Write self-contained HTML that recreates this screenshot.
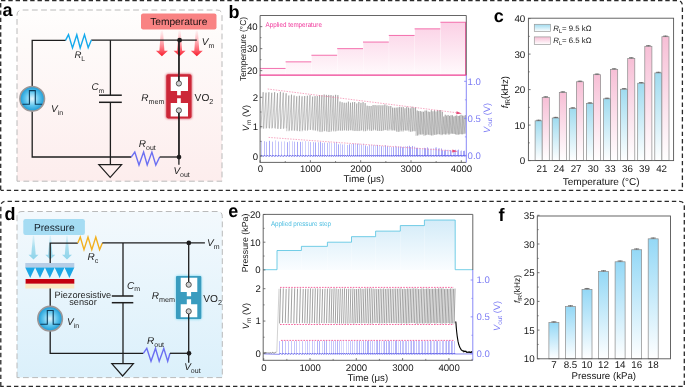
<!DOCTYPE html>
<html><head><meta charset="utf-8"><style>
html,body{margin:0;padding:0;background:#fff;}
svg{display:block;font-family:"Liberation Sans", sans-serif;will-change:transform;text-rendering:geometricPrecision;}
</style></head><body>
<svg width="685" height="387" viewBox="0 0 685 387">
<defs>
<linearGradient id="bgA" x1="0" y1="0" x2="0" y2="1"><stop offset="0" stop-color="#fffefd"/><stop offset="0.15" stop-color="#fefbfa"/><stop offset="1" stop-color="#fdeded"/></linearGradient>
<linearGradient id="bgD" x1="0" y1="0" x2="0" y2="1"><stop offset="0" stop-color="#f3f9fd"/><stop offset="1" stop-color="#dbf0fb"/></linearGradient>
<radialGradient id="vin" cx="0.5" cy="0.5" r="0.5"><stop offset="0" stop-color="#e6f8ff"/><stop offset="0.55" stop-color="#62c6ee"/><stop offset="1" stop-color="#1a9ad6"/></radialGradient>
<linearGradient id="arrR" x1="0" y1="0" x2="0" y2="1"><stop offset="0" stop-color="#ff7080" stop-opacity="0.05"/><stop offset="0.55" stop-color="#ff5060" stop-opacity="0.6"/><stop offset="1" stop-color="#f81828" stop-opacity="1"/></linearGradient>
<linearGradient id="arrB" x1="0" y1="0" x2="0" y2="1"><stop offset="0" stop-color="#a8e0f0" stop-opacity="0.3"/><stop offset="0.5" stop-color="#9ad9ec" stop-opacity="0.85"/><stop offset="1" stop-color="#8fd4ea" stop-opacity="1"/></linearGradient>
<linearGradient id="pinkStep" gradientUnits="userSpaceOnUse" x1="0" y1="22" x2="0" y2="75"><stop offset="0" stop-color="#fbd0e5"/><stop offset="1" stop-color="#fffafc"/></linearGradient>
<linearGradient id="blueStep" gradientUnits="userSpaceOnUse" x1="0" y1="219" x2="0" y2="270"><stop offset="0" stop-color="#d3ebf8"/><stop offset="1" stop-color="#fafdff"/></linearGradient>
<linearGradient id="barB" x1="0" y1="0" x2="0" y2="1"><stop offset="0" stop-color="#9fdbef"/><stop offset="1" stop-color="#ffffff"/></linearGradient>
<linearGradient id="barP" x1="0" y1="0" x2="0" y2="1"><stop offset="0" stop-color="#f7bfd6"/><stop offset="1" stop-color="#ffffff"/></linearGradient>
<linearGradient id="barF" x1="0" y1="0" x2="0" y2="1"><stop offset="0" stop-color="#94d8f6"/><stop offset="1" stop-color="#ffffff"/></linearGradient>
<filter id="glowR" x="-40%" y="-40%" width="180%" height="180%"><feGaussianBlur stdDeviation="1.2"/></filter>
<filter id="blur03"><feGaussianBlur stdDeviation="0.35"/></filter>
</defs>
<rect width="685" height="387" fill="#fff"/>
<path d="M0.7,190 L0.7,0.5 L677,0.5 Q682.4,0.5 682.4,6 L682.4,190.4 L0.7,190.4" fill="none" stroke="#2a2a2a" stroke-width="1.3" stroke-dasharray="4.4 2.9"/>
<path d="M0.8,386.4 L0.8,206.2 Q0.8,201.3 5.7,201.3 L679.4,201.3 Q684.3,201.3 684.3,206.2 L684.3,386.4 Z" fill="none" stroke="#2a2a2a" stroke-width="1.3" stroke-dasharray="4.4 2.9"/>
<text x="2.50" y="15.60" font-size="18" text-anchor="start" fill="#000" font-weight="bold" font-style="normal" >a</text>
<text x="228.60" y="17.50" font-size="18" text-anchor="start" fill="#000" font-weight="bold" font-style="normal" >b</text>
<text x="493.80" y="21.60" font-size="18" text-anchor="start" fill="#000" font-weight="bold" font-style="normal" >c</text>
<text x="4.40" y="219.80" font-size="18" text-anchor="start" fill="#000" font-weight="bold" font-style="normal" >d</text>
<text x="228.20" y="216.60" font-size="18" text-anchor="start" fill="#000" font-weight="bold" font-style="normal" >e</text>
<text x="498.60" y="220.60" font-size="18" text-anchor="start" fill="#000" font-weight="bold" font-style="normal" >f</text>
<path d="M17,181.2 L17,15 Q17,10 22,10 L217,10 Q222,10 222,15 L222,181.2 Z" fill="url(#bgA)" stroke="#bababa" stroke-width="1.0" stroke-dasharray="5.8 3.4"/>
<rect x="141.00" y="13.40" width="75.50" height="16.00" rx="2.2" fill="#f98383" stroke="none" stroke-width="1" />
<text x="178.80" y="25.30" font-size="10.2" text-anchor="middle" fill="#1a1212" font-weight="normal" font-style="normal" >Temperature</text>
<path d="M160.80,30.5 L163.00,30.5 L164.40,50.8 L167.90,50.8 L161.90,56.2 L155.90,50.8 L159.40,50.8 Z" fill="url(#arrR)"/>
<path d="M178.50,30.5 L180.70,30.5 L182.10,50.8 L185.60,50.8 L179.60,56.2 L173.60,50.8 L177.10,50.8 Z" fill="url(#arrR)"/>
<path d="M195.70,30.5 L197.90,30.5 L199.30,50.8 L202.80,50.8 L196.80,56.2 L190.80,50.8 L194.30,50.8 Z" fill="url(#arrR)"/>
<polyline points="32.20,86.00 32.20,40.40 65.70,40.40" stroke="#1e1e1e" stroke-width="1.3" fill="none" />
<line x1="91.20" y1="40.20" x2="196.80" y2="40.20" stroke="#1e1e1e" stroke-width="1.3" />
<polyline points="65.50,40.40 68.50,34.60 72.50,47.90 76.80,34.80 80.20,47.90 84.50,34.60 88.20,47.60 91.40,40.10" stroke="#14a9ec" stroke-width="1.4" fill="none" stroke-linejoin="miter"/>
<text x="74.40" y="58.40" font-size="9.6" fill="#1e1e1e" text-anchor="start"><tspan font-style="italic">R</tspan><tspan font-size="6.8" dy="2.9">L</tspan></text>
<line x1="110.40" y1="40.20" x2="110.40" y2="95.20" stroke="#1e1e1e" stroke-width="1.3" />
<line x1="99.00" y1="95.20" x2="121.80" y2="95.20" stroke="#1e1e1e" stroke-width="1.5" />
<line x1="99.00" y1="102.30" x2="121.80" y2="102.30" stroke="#1e1e1e" stroke-width="1.5" />
<line x1="110.40" y1="102.30" x2="110.40" y2="164.60" stroke="#1e1e1e" stroke-width="1.3" />
<text x="91.60" y="89.60" font-size="9.8" fill="#1e1e1e" text-anchor="start"><tspan font-style="italic">C</tspan><tspan font-size="6.6" dy="2.9">m</tspan></text>
<path d="M98.8,164.6 L121.6,164.6 L110.2,177.4 Z" fill="none" stroke="#1e1e1e" stroke-width="1.2" stroke-linejoin="miter"/>
<polyline points="32.20,111.00 32.20,157.00 131.30,157.00" stroke="#1e1e1e" stroke-width="1.3" fill="none" />
<circle cx="32.2" cy="98.8" r="12.3" fill="url(#vin)" stroke="#9d9797" stroke-width="1.6"/>
<polyline points="22.40,104.30 29.40,104.30 29.40,90.60 35.30,90.60 35.30,104.30 42.20,104.30" stroke="#0b3d5c" stroke-width="1.1" fill="none" />
<text x="51.00" y="111.60" font-size="10" fill="#1e1e1e" text-anchor="start"><tspan font-style="italic">V</tspan><tspan font-size="7" dy="2.9">in</tspan></text>
<polyline points="131.20,157.20 134.80,152.10 139.00,165.00 143.60,152.10 147.20,165.00 151.90,152.10 155.80,165.00 159.70,157.00" stroke="#6b6ff2" stroke-width="1.4" fill="none" />
<line x1="159.70" y1="157.00" x2="179.00" y2="157.00" stroke="#1e1e1e" stroke-width="1.3" />
<text x="138.80" y="146.90" font-size="10" fill="#1e1e1e" text-anchor="start"><tspan font-style="italic">R</tspan><tspan font-size="7" dy="2.9">out</tspan></text>
<line x1="179.00" y1="40.20" x2="179.00" y2="81.00" stroke="#1e1e1e" stroke-width="1.3" />
<line x1="179.00" y1="113.00" x2="179.00" y2="157.00" stroke="#1e1e1e" stroke-width="1.3" />
<circle cx="179.60" cy="40.20" r="2.35" fill="#1e1e1e"/>
<circle cx="179.00" cy="157.10" r="2.35" fill="#1e1e1e"/>
<text x="201.80" y="45.30" font-size="10" fill="#1e1e1e" text-anchor="start"><tspan font-style="italic">V</tspan><tspan font-size="7" dy="2.9">m</tspan></text>
<text x="173.40" y="174.30" font-size="10" fill="#1e1e1e" text-anchor="start"><tspan font-style="italic">V</tspan><tspan font-size="7" dy="2.9">out</tspan></text>
<rect x="165.80" y="73.80" width="26.20" height="45.00" rx="2.5" fill="#cf2a3c" stroke="none" stroke-width="1" filter="url(#glowR)" opacity="0.75"/>
<rect x="166.30" y="74.20" width="25.20" height="44.20" rx="1.8" fill="#cc2738" stroke="none" stroke-width="1" />
<path d="M170.7,76.7 L188.0,76.7 L188.0,90.9 L180.8,90.9 L180.8,95.3 L177.1,95.3 L177.1,90.9 L170.7,90.9 Z" fill="#ffffff"/>
<path d="M170.7,116.4 L188.0,116.4 L188.0,103.0 L180.8,103.0 L180.8,98.3 L177.1,98.3 L177.1,103.0 L170.7,103.0 Z" fill="#ffffff"/>
<line x1="178.90" y1="76.00" x2="178.90" y2="81.00" stroke="#1e1e1e" stroke-width="1.3" />
<line x1="178.90" y1="113.00" x2="178.90" y2="119.00" stroke="#1e1e1e" stroke-width="1.3" />
<circle cx="178.9" cy="83.5" r="2.6" fill="#cfcfcf" stroke="#333" stroke-width="0.8"/>
<circle cx="178.9" cy="110.4" r="2.6" fill="#cfcfcf" stroke="#333" stroke-width="0.8"/>
<line x1="178.90" y1="40.20" x2="178.90" y2="80.90" stroke="#1e1e1e" stroke-width="1.3" />
<line x1="178.90" y1="113.00" x2="178.90" y2="164.70" stroke="#1e1e1e" stroke-width="1.3" />
<text x="141.20" y="100.60" font-size="10" fill="#1e1e1e" text-anchor="start"><tspan font-style="italic">R</tspan><tspan font-size="7.2" dy="2.9">mem</tspan></text>
<text x="194.60" y="101.00" font-size="10.2" fill="#1e1e1e" text-anchor="start"><tspan font-style="normal">VO</tspan><tspan font-size="7.2" dy="2.9">2</tspan></text>
<path d="M17,377.6 L17,216.5 Q17,211.5 22,211.5 L217.3,211.5 Q222.3,211.5 222.3,216.5 L222.3,377.6 Z" fill="url(#bgD)" stroke="#bababa" stroke-width="1.0" stroke-dasharray="5.8 3.4"/>
<rect x="23.30" y="219.00" width="61.60" height="15.90" rx="2.2" fill="#a5dcf3" stroke="none" stroke-width="1" />
<text x="54.30" y="230.80" font-size="10.2" text-anchor="middle" fill="#16202a" font-weight="normal" font-style="normal" >Pressure</text>
<path d="M32.90,235.8 L34.10,235.8 L35.70,254.7 L38.50,254.7 L33.50,259.6 L28.50,254.7 L31.30,254.7 Z" fill="url(#arrB)"/>
<path d="M49.70,235.8 L50.90,235.8 L52.50,254.7 L55.30,254.7 L50.30,259.6 L45.30,254.7 L48.10,254.7 Z" fill="url(#arrB)"/>
<path d="M66.40,235.8 L67.60,235.8 L69.20,254.7 L72.00,254.7 L67.00,259.6 L62.00,254.7 L64.80,254.7 Z" fill="url(#arrB)"/>
<rect x="25.30" y="263.00" width="49.00" height="4.60" rx="0" fill="#b5cde6" stroke="none" stroke-width="1" />
<path d="M25.30,267.5 L35.10,267.5 L30.20,278 Z" fill="#1ca7e6"/>
<path d="M35.10,267.5 L44.90,267.5 L40.00,278 Z" fill="#1ca7e6"/>
<path d="M44.90,267.5 L54.70,267.5 L49.80,278 Z" fill="#1ca7e6"/>
<path d="M54.70,267.5 L64.50,267.5 L59.60,278 Z" fill="#1ca7e6"/>
<path d="M64.50,267.5 L74.30,267.5 L69.40,278 Z" fill="#1ca7e6"/>
<rect x="25.60" y="279.00" width="48.70" height="4.80" rx="0" fill="#c4000f" stroke="none" stroke-width="1" />
<rect x="25.30" y="283.80" width="49.00" height="4.70" rx="0" fill="#fbe8c2" stroke="none" stroke-width="1" />
<polyline points="50.20,263.00 50.20,243.10 77.80,243.10" stroke="#1e1e1e" stroke-width="1.3" fill="none" />
<polyline points="77.80,243.10 80.30,237.00 84.00,249.60 88.00,237.00 91.80,249.60 95.80,237.00 99.60,249.60 102.40,242.90" stroke="#f2b01e" stroke-width="1.4" fill="none" />
<line x1="102.30" y1="242.90" x2="204.90" y2="242.90" stroke="#1e1e1e" stroke-width="1.3" />
<text x="87.50" y="259.60" font-size="10" fill="#1e1e1e" text-anchor="start"><tspan font-style="italic">R</tspan><tspan font-size="7" dy="2.9">c</tspan></text>
<line x1="50.20" y1="288.50" x2="50.20" y2="306.30" stroke="#1e1e1e" stroke-width="1.3" />
<line x1="123.00" y1="242.90" x2="123.00" y2="296.00" stroke="#1e1e1e" stroke-width="1.3" />
<line x1="111.80" y1="296.00" x2="133.30" y2="296.00" stroke="#1e1e1e" stroke-width="1.5" />
<line x1="111.80" y1="302.70" x2="133.30" y2="302.70" stroke="#1e1e1e" stroke-width="1.5" />
<line x1="123.00" y1="302.70" x2="123.00" y2="363.50" stroke="#1e1e1e" stroke-width="1.3" />
<text x="127.00" y="288.50" font-size="10" fill="#1e1e1e" text-anchor="start"><tspan font-style="italic">C</tspan><tspan font-size="7" dy="2.9">m</tspan></text>
<path d="M111.8,363.6 L133.4,363.6 L122.6,376.0 Z" fill="none" stroke="#1e1e1e" stroke-width="1.2"/>
<text x="82.90" y="298.00" font-size="9.2" text-anchor="middle" fill="#1e1e1e" font-weight="normal" font-style="normal" >Piezoresistive</text>
<text x="83.00" y="305.20" font-size="9.2" text-anchor="middle" fill="#1e1e1e" font-weight="normal" font-style="normal" >sensor</text>
<polyline points="50.20,331.00 50.20,353.30 143.30,353.30" stroke="#1e1e1e" stroke-width="1.3" fill="none" />
<circle cx="50.1" cy="318.7" r="12.3" fill="url(#vin)" stroke="#9d9797" stroke-width="1.6"/>
<polyline points="40.30,324.20 47.30,324.20 47.30,310.50 53.20,310.50 53.20,324.20 60.10,324.20" stroke="#0b3d5c" stroke-width="1.1" fill="none" />
<text x="67.00" y="325.00" font-size="10" fill="#1e1e1e" text-anchor="start"><tspan font-style="italic">V</tspan><tspan font-size="7" dy="2.9">in</tspan></text>
<polyline points="143.30,353.30 146.80,348.40 151.00,361.20 155.50,348.40 159.20,361.20 163.80,348.40 167.70,361.20 170.00,353.30" stroke="#6b6ff2" stroke-width="1.4" fill="none" />
<line x1="170.00" y1="353.30" x2="189.00" y2="353.30" stroke="#1e1e1e" stroke-width="1.3" />
<text x="147.00" y="343.80" font-size="10" fill="#1e1e1e" text-anchor="start"><tspan font-style="italic">R</tspan><tspan font-size="7" dy="2.9">out</tspan></text>
<text x="184.20" y="370.40" font-size="10" fill="#1e1e1e" text-anchor="start"><tspan font-style="italic">V</tspan><tspan font-size="7" dy="2.9">out</tspan></text>
<text x="207.00" y="246.30" font-size="10" fill="#1e1e1e" text-anchor="start"><tspan font-style="italic">V</tspan><tspan font-size="7" dy="2.9">m</tspan></text>
<rect x="175.60" y="275.60" width="26.00" height="43.80" rx="2.5" fill="#6fd4ef" stroke="none" stroke-width="1" filter="url(#glowR)" opacity="0.8"/>
<rect x="176.00" y="276.00" width="25.30" height="43.10" rx="1.0" fill="#3a9cbf" stroke="none" stroke-width="1" />
<path d="M180.7,277.8 L197.3,277.8 L197.3,292.1 L191.1,292.1 L191.1,296.3 L186.8,296.3 L186.8,292.1 L180.7,292.1 Z" fill="#ffffff"/>
<path d="M180.7,317.3 L197.3,317.3 L197.3,304.2 L191.1,304.2 L191.1,299.2 L186.8,299.2 L186.8,304.2 L180.7,304.2 Z" fill="#ffffff"/>
<line x1="188.70" y1="242.90" x2="188.70" y2="282.00" stroke="#1e1e1e" stroke-width="1.3" />
<line x1="188.70" y1="314.00" x2="188.70" y2="362.80" stroke="#1e1e1e" stroke-width="1.3" />
<circle cx="188.7" cy="284.7" r="2.6" fill="#cfcfcf" stroke="#333" stroke-width="0.8"/>
<circle cx="188.7" cy="311.3" r="2.6" fill="#cfcfcf" stroke="#333" stroke-width="0.8"/>
<circle cx="188.80" cy="242.90" r="2.35" fill="#1e1e1e"/>
<circle cx="189.00" cy="353.30" r="2.35" fill="#1e1e1e"/>
<text x="151.80" y="298.80" font-size="10" fill="#1e1e1e" text-anchor="start"><tspan font-style="italic">R</tspan><tspan font-size="7.2" dy="2.9">mem</tspan></text>
<text x="203.30" y="302.40" font-size="10.2" fill="#1e1e1e" text-anchor="start"><tspan font-style="normal">VO</tspan><tspan font-size="7.2" dy="2.9">2</tspan></text>
<rect x="260.10" y="68.45" width="25.50" height="6.65" rx="0" fill="url(#pinkStep)" stroke="none" stroke-width="1" />
<line x1="259.80" y1="68.45" x2="285.60" y2="68.45" stroke="#f2589f" stroke-width="0.85" />
<rect x="285.90" y="61.85" width="25.50" height="13.25" rx="0" fill="url(#pinkStep)" stroke="none" stroke-width="1" />
<line x1="285.60" y1="61.85" x2="311.40" y2="61.85" stroke="#f2589f" stroke-width="0.85" />
<rect x="311.70" y="55.25" width="25.50" height="19.85" rx="0" fill="url(#pinkStep)" stroke="none" stroke-width="1" />
<line x1="311.40" y1="55.25" x2="337.20" y2="55.25" stroke="#f2589f" stroke-width="0.85" />
<rect x="337.50" y="48.65" width="25.50" height="26.45" rx="0" fill="url(#pinkStep)" stroke="none" stroke-width="1" />
<line x1="337.20" y1="48.65" x2="363.00" y2="48.65" stroke="#f2589f" stroke-width="0.85" />
<rect x="363.30" y="42.05" width="25.50" height="33.05" rx="0" fill="url(#pinkStep)" stroke="none" stroke-width="1" />
<line x1="363.00" y1="42.05" x2="388.80" y2="42.05" stroke="#f2589f" stroke-width="0.85" />
<rect x="389.10" y="35.45" width="25.50" height="39.65" rx="0" fill="url(#pinkStep)" stroke="none" stroke-width="1" />
<line x1="388.80" y1="35.45" x2="414.60" y2="35.45" stroke="#f2589f" stroke-width="0.85" />
<rect x="414.90" y="28.85" width="25.50" height="46.25" rx="0" fill="url(#pinkStep)" stroke="none" stroke-width="1" />
<line x1="414.60" y1="28.85" x2="440.40" y2="28.85" stroke="#f2589f" stroke-width="0.85" />
<rect x="440.70" y="22.25" width="25.50" height="52.85" rx="0" fill="url(#pinkStep)" stroke="none" stroke-width="1" />
<line x1="440.40" y1="22.25" x2="466.20" y2="22.25" stroke="#f2589f" stroke-width="0.85" />
<line x1="465.50" y1="22.25" x2="465.50" y2="75.10" stroke="#f2589f" stroke-width="0.9" />
<polyline points="260.10,75.10 260.10,15.50 466.30,15.50 466.30,75.10" stroke="#555555" stroke-width="0.9" fill="none" />
<line x1="259.70" y1="75.10" x2="466.70" y2="75.10" stroke="#ee3f93" stroke-width="1.1" />
<text x="265.60" y="27.00" font-size="7.0" text-anchor="start" fill="#f0359a" font-weight="normal" font-style="normal" textLength="56.3" lengthAdjust="spacingAndGlyphs">Applied temperature</text>
<line x1="260.10" y1="70.65" x2="262.30" y2="70.65" stroke="#555555" stroke-width="0.8" />
<text x="257.60" y="74.05" font-size="9.6" text-anchor="end" fill="#161616" font-weight="normal" font-style="normal" >20</text>
<line x1="260.10" y1="48.65" x2="262.30" y2="48.65" stroke="#555555" stroke-width="0.8" />
<text x="257.60" y="52.05" font-size="9.6" text-anchor="end" fill="#161616" font-weight="normal" font-style="normal" >30</text>
<line x1="260.10" y1="26.65" x2="262.30" y2="26.65" stroke="#555555" stroke-width="0.8" />
<text x="257.60" y="30.05" font-size="9.6" text-anchor="end" fill="#161616" font-weight="normal" font-style="normal" >40</text>
<line x1="260.10" y1="59.65" x2="261.50" y2="59.65" stroke="#555555" stroke-width="0.7" />
<line x1="260.10" y1="37.65" x2="261.50" y2="37.65" stroke="#555555" stroke-width="0.7" />
<text transform="translate(246.0,49.0) rotate(-90)" font-size="8.6" text-anchor="middle" fill="#161616" textLength="64" lengthAdjust="spacingAndGlyphs">Temperature (°C)</text>
<path d="M260.85,128.57L263.15,92.18L263.30,128.57M263.73,128.63L266.03,92.65L266.17,128.63M266.60,128.07L268.90,92.22L269.05,128.07M269.48,128.58L271.78,92.78L271.92,128.58M272.35,127.94L274.65,92.16L274.79,127.94M275.23,128.77L277.53,93.18L277.67,128.77M278.10,128.95L280.40,91.79L280.54,128.95M280.97,128.85L283.27,92.65L283.42,128.85M283.85,128.38L286.15,93.28L286.29,128.38M286.72,131.20L288.84,95.49L288.97,131.20M289.37,130.49L291.49,94.67L291.62,130.49M292.02,130.70L294.14,95.47L294.27,130.70M294.67,130.62L296.78,96.27L296.92,130.62M297.31,131.15L299.43,95.77L299.56,131.15M299.96,131.29L302.08,96.31L302.21,131.29M302.61,130.22L304.73,96.00L304.86,130.22M305.25,130.84L307.37,95.74L307.50,130.84M307.90,129.90L310.02,95.13L310.15,129.90M310.55,129.84L312.67,96.58L312.80,129.84M313.20,130.53L315.03,96.09L315.14,130.53M315.48,130.57L317.31,96.05L317.43,130.57M317.77,131.44L319.60,95.06L319.71,131.44M320.06,132.10L321.88,95.31L322.00,132.10M322.34,131.36L324.17,94.52L324.29,131.36M324.63,130.92L326.46,94.88L326.57,130.92M326.91,132.03L328.74,94.93L328.86,132.03M329.20,131.89L331.03,95.05L331.14,131.89M331.49,130.66L333.32,95.66L333.43,130.66M333.77,131.51L335.60,94.84L335.72,131.51M336.06,130.91L337.89,95.17L338.00,130.91M338.35,130.46L340.02,101.52L340.13,130.46M340.44,130.74L342.12,102.25L342.22,130.74M342.54,130.55L344.22,102.75L344.32,130.55M344.63,130.25L346.31,102.72L346.42,130.25M346.73,130.88L348.41,101.62L348.51,130.88M348.83,130.28L350.50,102.76L350.61,130.28M350.92,130.30L352.60,102.23L352.70,130.30M353.02,131.06L354.69,102.03L354.80,131.06M355.11,130.89L356.79,103.44L356.89,130.89M357.21,131.09L358.89,101.95L358.99,131.09M359.31,130.84L360.98,102.86L361.09,130.84M361.40,130.33L363.08,102.14L363.18,130.33M363.50,131.34L365.17,103.12L365.28,131.34M365.59,130.92L367.17,105.70L367.27,130.92M367.57,129.55L369.14,105.97L369.24,129.55M369.54,130.84L371.12,106.01L371.21,130.84M371.51,130.82L373.09,105.08L373.19,130.82M373.48,129.71L375.06,105.09L375.16,129.71M375.46,130.51L377.03,105.33L377.13,130.51M377.43,130.97L379.01,105.22L379.10,130.97M379.40,130.83L380.98,105.35L381.08,130.83M381.37,131.02L382.95,105.27L383.05,131.02M383.35,130.23L384.92,104.46L385.02,130.23M385.32,129.96L386.90,105.44L386.99,129.96M387.29,130.87L388.87,106.12L388.97,130.87M389.26,129.57L390.84,106.02L390.94,129.57M391.24,130.62L392.65,107.62L392.74,130.62M393.00,130.32L394.41,107.75L394.50,130.32M394.77,130.68L396.18,107.61L396.27,130.68M396.53,131.80L397.94,107.43L398.03,131.80M398.30,131.86L399.71,106.85L399.80,131.86M400.06,130.62L401.47,107.30L401.56,130.62M401.83,131.57L403.24,106.94L403.33,131.57M403.59,130.31L405.00,108.25L405.09,130.31M405.36,130.73L406.77,106.70L406.86,130.73M407.12,130.38L408.53,107.64L408.62,130.38M408.88,131.54L410.30,108.31L410.39,131.54M410.65,131.86L412.06,106.74L412.15,131.86M412.41,131.08L413.83,107.63L413.91,131.08M414.18,131.34L415.59,107.30L415.68,131.34M415.94,135.78L417.20,110.53L417.28,135.78M417.52,135.35L418.77,111.11L418.85,135.35M419.09,134.27L420.35,111.13L420.42,134.27M420.66,134.81L421.92,111.57L422.00,134.81M422.23,134.28L423.49,111.77L423.57,134.28M423.80,135.72L425.06,110.63L425.14,135.72M425.38,135.06L426.63,110.49L426.71,135.06M426.95,134.56L428.21,111.61L428.28,134.56M428.52,134.80L429.78,111.87L429.86,134.80M430.09,135.30L431.35,110.24L431.43,135.30M431.66,135.62L432.92,111.32L433.00,135.62M433.24,134.71L434.49,110.22L434.57,134.71M434.81,134.96L436.06,111.43L436.14,134.96M436.38,134.35L437.64,110.09L437.71,134.35M437.95,134.24L439.21,110.36L439.29,134.24M439.52,134.38L440.78,110.05L440.86,134.38M441.09,135.13L442.35,111.90L442.43,135.13M442.67,134.10L443.82,116.49L443.89,134.10M444.10,134.40L445.25,114.71L445.33,134.40M445.54,134.59L446.69,115.60L446.76,134.59M446.98,133.49L448.13,114.98L448.20,133.49M448.41,134.71L449.56,115.90L449.64,134.71M449.85,133.76L451.00,115.29L451.07,133.76M451.29,133.58L452.44,115.25L452.51,133.58M452.73,133.86L453.88,116.43L453.95,133.86M454.16,134.03L455.31,115.85L455.39,134.03M455.60,134.62L456.75,115.30L456.82,134.62M457.04,134.67L458.19,116.00L458.26,134.67M458.47,134.57L459.62,115.67L459.70,134.57M459.91,134.02L461.06,114.79L461.13,134.02M461.35,134.45L462.50,115.58L462.57,134.45M462.79,134.14L463.94,115.69L464.01,134.14M464.22,133.63L465.37,115.11L465.45,133.63" stroke="#707070" stroke-width="0.42" fill="none"/>
<path d="M269.50,155.60V140.84M287.50,155.60V142.21M297.50,155.60V141.89M300.50,155.60V141.87M315.50,155.60V142.38M320.50,155.60V141.90M338.50,155.60V144.33M349.50,155.60V144.36M353.50,155.60V143.57M357.50,155.60V143.78M365.50,155.60V145.42M377.50,155.60V144.95M381.50,155.60V146.18M385.50,155.60V145.25M387.50,155.60V146.25M393.50,155.60V146.89M398.50,155.60V146.57M400.50,155.60V146.56M402.50,155.60V147.17M407.50,155.60V146.22M409.50,155.60V145.77M410.50,155.60V147.07M412.50,155.60V145.95M416.50,155.60V147.89M417.50,155.60V147.81M424.50,155.60V147.87M425.50,155.60V148.31M427.50,155.60V147.41M438.50,155.60V148.55M441.50,155.60V148.48M442.50,155.60V150.25M444.50,155.60V150.90M445.50,155.60V149.69M450.50,155.60V150.07M458.50,155.60V149.62M463.50,155.60V150.97M464.50,155.60V150.69" stroke="#6a6af2" stroke-width="0.6" fill="none"/>
<path d="M264.50,155.60V141.17M266.50,155.60V141.79M272.50,155.60V141.68M278.50,155.60V141.52M294.50,155.60V141.65M310.50,155.60V142.08M313.50,155.60V142.08M318.50,155.60V142.28M322.50,155.60V142.92M324.50,155.60V142.50M327.50,155.60V142.83M334.50,155.60V142.54M336.50,155.60V141.88M342.50,155.60V144.49M347.50,155.60V144.94M361.50,155.60V144.73M367.50,155.60V146.23M369.50,155.60V144.99M373.50,155.60V145.17M391.50,155.60V147.11M396.50,155.60V146.68M403.50,155.60V146.71M414.50,155.60V146.64M428.50,155.60V148.64M435.50,155.60V147.58M436.50,155.60V147.36M455.50,155.60V149.66M457.50,155.60V150.23M461.50,155.60V150.47" stroke="#8e8ef6" stroke-width="0.6" fill="none"/>
<path d="M261.50,155.60V140.79M275.50,155.60V140.30M281.50,155.60V141.61M284.50,155.60V141.37M289.50,155.60V141.21M292.50,155.60V141.28M302.50,155.60V141.67M305.50,155.60V141.14M308.50,155.60V141.57M329.50,155.60V142.02M331.50,155.60V142.96M340.50,155.60V143.61M344.50,155.60V144.18M351.50,155.60V143.99M355.50,155.60V143.61M359.50,155.60V143.56M363.50,155.60V143.53M371.50,155.60V144.84M375.50,155.60V145.16M379.50,155.60V145.70M383.50,155.60V145.91M389.50,155.60V146.15M395.50,155.60V145.73M405.50,155.60V146.13M419.50,155.60V147.94M420.50,155.60V148.48M422.50,155.60V148.20M430.50,155.60V148.70M431.50,155.60V148.47M433.50,155.60V148.05M439.50,155.60V147.97M447.50,155.60V149.80M448.50,155.60V149.80M451.50,155.60V150.89M453.50,155.60V150.31M454.50,155.60V150.17M460.50,155.60V150.90" stroke="#b0b0f9" stroke-width="0.6" fill="none"/>
<polyline points="260.40,155.90 260.95,156.40 261.30,155.00 262.31,156.00 263.83,156.40 264.18,155.00 265.18,156.00 266.70,156.40 267.05,155.00 268.06,156.00 269.58,156.40 269.93,155.00 270.93,156.00 272.45,156.40 272.80,155.00 273.81,156.00 275.33,156.40 275.68,155.00 276.68,156.00 278.20,156.40 278.55,155.00 279.56,156.00 281.07,156.40 281.42,155.00 282.43,156.00 283.95,156.40 284.30,155.00 285.30,156.00 286.82,156.40 287.17,155.00 288.10,156.00 289.47,156.40 289.82,155.00 290.75,156.00 292.12,156.40 292.47,155.00 293.39,156.00 294.77,156.40 295.12,155.00 296.04,156.00 297.41,156.40 297.76,155.00 298.69,156.00 300.06,156.40 300.41,155.00 301.34,156.00 302.71,156.40 303.06,155.00 303.98,156.00 305.35,156.40 305.70,155.00 306.63,156.00 308.00,156.40 308.35,155.00 309.28,156.00 310.65,156.40 311.00,155.00 311.93,156.00 313.30,156.40 313.65,155.00 314.45,156.00 315.58,156.40 315.93,155.00 316.73,156.00 317.87,156.40 318.22,155.00 319.02,156.00 320.16,156.40 320.51,155.00 321.31,156.00 322.44,156.40 322.79,155.00 323.59,156.00 324.73,156.40 325.08,155.00 325.88,156.00 327.01,156.40 327.36,155.00 328.17,156.00 329.30,156.40 329.65,155.00 330.45,156.00 331.59,156.40 331.94,155.00 332.74,156.00 333.87,156.40 334.22,155.00 335.02,156.00 336.16,156.40 336.51,155.00 337.31,156.00 338.45,156.40 338.80,155.00 339.53,156.00 340.54,156.40 340.89,155.00 341.63,156.00 342.64,156.40 342.99,155.00 343.72,156.00 344.73,156.40 345.08,155.00 345.82,156.00 346.83,156.40 347.18,155.00 347.91,156.00 348.93,156.40 349.28,155.00 350.01,156.00 351.02,156.40 351.37,155.00 352.11,156.00 353.12,156.40 353.47,155.00 354.20,156.00 355.21,156.40 355.56,155.00 356.30,156.00 357.31,156.40 357.66,155.00 358.39,156.00 359.41,156.40 359.76,155.00 360.49,156.00 361.50,156.40 361.85,155.00 362.58,156.00 363.60,156.40 363.95,155.00 364.68,156.00 365.69,156.40 366.04,155.00 366.73,156.00 367.67,156.40 368.02,155.00 368.71,156.00 369.64,156.40 369.99,155.00 370.68,156.00 371.61,156.40 371.96,155.00 372.65,156.00 373.58,156.40 373.93,155.00 374.62,156.00 375.56,156.40 375.91,155.00 376.60,156.00 377.53,156.40 377.88,155.00 378.57,156.00 379.50,156.40 379.85,155.00 380.54,156.00 381.47,156.40 381.82,155.00 382.51,156.00 383.45,156.40 383.80,155.00 384.49,156.00 385.42,156.40 385.77,155.00 386.46,156.00 387.39,156.40 387.74,155.00 388.43,156.00 389.36,156.40 389.71,155.00 390.40,156.00 391.34,156.40 391.69,155.00 392.30,156.00 393.10,156.40 393.45,155.00 394.07,156.00 394.87,156.40 395.22,155.00 395.83,156.00 396.63,156.40 396.98,155.00 397.60,156.00 398.40,156.40 398.75,155.00 399.36,156.00 400.16,156.40 400.51,155.00 401.13,156.00 401.93,156.40 402.28,155.00 402.89,156.00 403.69,156.40 404.04,155.00 404.66,156.00 405.46,156.40 405.81,155.00 406.42,156.00 407.22,156.40 407.57,155.00 408.19,156.00 408.98,156.40 409.33,155.00 409.95,156.00 410.75,156.40 411.10,155.00 411.72,156.00 412.51,156.40 412.86,155.00 413.48,156.00 414.28,156.40 414.63,155.00 415.25,156.00 416.04,156.40 416.39,155.00 416.94,156.00 417.62,156.40 417.97,155.00 418.52,156.00 419.19,156.40 419.54,155.00 420.09,156.00 420.76,156.40 421.11,155.00 421.66,156.00 422.33,156.40 422.68,155.00 423.23,156.00 423.90,156.40 424.25,155.00 424.80,156.00 425.48,156.40 425.83,155.00 426.38,156.00 427.05,156.40 427.40,155.00 427.95,156.00 428.62,156.40 428.97,155.00 429.52,156.00 430.19,156.40 430.54,155.00 431.09,156.00 431.76,156.40 432.11,155.00 432.66,156.00 433.34,156.40 433.69,155.00 434.24,156.00 434.91,156.40 435.26,155.00 435.81,156.00 436.48,156.40 436.83,155.00 437.38,156.00 438.05,156.40 438.40,155.00 438.95,156.00 439.62,156.40 439.97,155.00 440.52,156.00 441.19,156.40 441.54,155.00 442.09,156.00 442.77,156.40 443.12,155.00 443.62,156.00 444.20,156.40 444.55,155.00 445.06,156.00 445.64,156.40 445.99,155.00 446.49,156.00 447.08,156.40 447.43,155.00 447.93,156.00 448.51,156.40 448.86,155.00 449.37,156.00 449.95,156.40 450.30,155.00 450.81,156.00 451.39,156.40 451.74,155.00 452.24,156.00 452.83,156.40 453.18,155.00 453.68,156.00 454.26,156.40 454.61,155.00 455.12,156.00 455.70,156.40 456.05,155.00 456.55,156.00 457.14,156.40 457.49,155.00 457.99,156.00 458.57,156.40 458.92,155.00 459.43,156.00 460.01,156.40 460.36,155.00 460.87,156.00 461.45,156.40 461.80,155.00 462.30,156.00 462.89,156.40 463.24,155.00 463.74,156.00 464.32,156.40 464.67,155.00 465.18,156.00 466.30,156.00" stroke="#5555e6" stroke-width="0.7" fill="none" />
<line x1="267.70" y1="89.00" x2="458.00" y2="112.90" stroke="#f27aa2" stroke-width="0.65" stroke-dasharray="1.5 1.2"/>
<path d="M456.6,111.3 L461.8,113.4 L456.2,114.3 Z" fill="#e54a78"/>
<line x1="268.60" y1="137.40" x2="453.50" y2="151.00" stroke="#f27aa2" stroke-width="0.65" stroke-dasharray="1.5 1.2"/>
<path d="M452.4,149.5 L457.6,151.3 L452.2,152.4 Z" fill="#e54a78"/>
<line x1="260.10" y1="75.10" x2="260.10" y2="162.40" stroke="#555555" stroke-width="0.9" />
<line x1="259.70" y1="162.40" x2="466.30" y2="162.40" stroke="#555555" stroke-width="0.9" />
<line x1="466.30" y1="75.10" x2="466.30" y2="162.40" stroke="#7b7bf6" stroke-width="0.9" />
<line x1="260.10" y1="156.10" x2="262.30" y2="156.10" stroke="#555555" stroke-width="0.8" />
<text x="258.00" y="159.50" font-size="9.6" text-anchor="end" fill="#161616" font-weight="normal" font-style="normal" >0</text>
<line x1="260.10" y1="126.70" x2="262.30" y2="126.70" stroke="#555555" stroke-width="0.8" />
<text x="258.00" y="130.10" font-size="9.6" text-anchor="end" fill="#161616" font-weight="normal" font-style="normal" >1</text>
<line x1="260.10" y1="97.30" x2="262.30" y2="97.30" stroke="#555555" stroke-width="0.8" />
<text x="258.00" y="100.70" font-size="9.6" text-anchor="end" fill="#161616" font-weight="normal" font-style="normal" >2</text>
<line x1="260.10" y1="141.40" x2="261.50" y2="141.40" stroke="#555555" stroke-width="0.7" />
<line x1="260.10" y1="112.00" x2="261.50" y2="112.00" stroke="#555555" stroke-width="0.7" />
<line x1="464.10" y1="155.40" x2="466.30" y2="155.40" stroke="#7b7bf6" stroke-width="0.8" />
<text x="467.60" y="158.80" font-size="9.6" text-anchor="start" fill="#7c7cf4" font-weight="normal" font-style="normal" >0.0</text>
<line x1="464.10" y1="118.35" x2="466.30" y2="118.35" stroke="#7b7bf6" stroke-width="0.8" />
<text x="467.60" y="121.75" font-size="9.6" text-anchor="start" fill="#7c7cf4" font-weight="normal" font-style="normal" >0.5</text>
<line x1="464.10" y1="81.30" x2="466.30" y2="81.30" stroke="#7b7bf6" stroke-width="0.8" />
<text x="467.60" y="84.70" font-size="9.6" text-anchor="start" fill="#7c7cf4" font-weight="normal" font-style="normal" >1.0</text>
<line x1="464.90" y1="136.88" x2="466.30" y2="136.88" stroke="#7b7bf6" stroke-width="0.7" />
<line x1="464.90" y1="99.83" x2="466.30" y2="99.83" stroke="#7b7bf6" stroke-width="0.7" />
<line x1="260.10" y1="162.40" x2="260.10" y2="160.20" stroke="#555555" stroke-width="0.8" />
<text x="260.30" y="172.00" font-size="9.6" text-anchor="middle" fill="#161616" font-weight="normal" font-style="normal" >0</text>
<line x1="310.40" y1="162.40" x2="310.40" y2="160.20" stroke="#555555" stroke-width="0.8" />
<text x="310.60" y="172.00" font-size="9.6" text-anchor="middle" fill="#161616" font-weight="normal" font-style="normal" >1000</text>
<line x1="360.70" y1="162.40" x2="360.70" y2="160.20" stroke="#555555" stroke-width="0.8" />
<text x="360.90" y="172.00" font-size="9.6" text-anchor="middle" fill="#161616" font-weight="normal" font-style="normal" >2000</text>
<line x1="411.00" y1="162.40" x2="411.00" y2="160.20" stroke="#555555" stroke-width="0.8" />
<text x="411.20" y="172.00" font-size="9.6" text-anchor="middle" fill="#161616" font-weight="normal" font-style="normal" >3000</text>
<line x1="461.30" y1="162.40" x2="461.30" y2="160.20" stroke="#555555" stroke-width="0.8" />
<text x="461.50" y="172.00" font-size="9.6" text-anchor="middle" fill="#161616" font-weight="normal" font-style="normal" >4000</text>
<line x1="285.25" y1="162.40" x2="285.25" y2="161.00" stroke="#555555" stroke-width="0.7" />
<line x1="335.55" y1="162.40" x2="335.55" y2="161.00" stroke="#555555" stroke-width="0.7" />
<line x1="385.85" y1="162.40" x2="385.85" y2="161.00" stroke="#555555" stroke-width="0.7" />
<line x1="436.15" y1="162.40" x2="436.15" y2="161.00" stroke="#555555" stroke-width="0.7" />
<text x="363.80" y="182.40" font-size="9.7" text-anchor="middle" fill="#161616" font-weight="normal" font-style="normal" >Time (μs)</text>
<text transform="translate(248.6,118) rotate(-90)" font-size="9.2" text-anchor="middle" fill="#161616"><tspan font-style="italic">V</tspan><tspan font-size="6.5" dy="2">m</tspan><tspan dy="-2"> (V)</tspan></text>
<text transform="translate(489.8,118) rotate(-90)" font-size="9.2" text-anchor="middle" fill="#7c7cf4"><tspan font-style="italic">V</tspan><tspan font-size="6.5" dy="2">out</tspan><tspan dy="-2"> (V)</tspan></text>
<rect x="535.10" y="120.84" width="7.10" height="39.76" rx="0" fill="url(#barB)" stroke="#8a8a8a" stroke-width="0.7" />
<line x1="536.40" y1="120.24" x2="540.90" y2="120.24" stroke="#555" stroke-width="0.8" />
<line x1="538.65" y1="119.64" x2="538.65" y2="120.84" stroke="#555" stroke-width="0.6" />
<rect x="542.20" y="97.41" width="7.10" height="63.19" rx="0" fill="url(#barP)" stroke="#8a8a8a" stroke-width="0.7" />
<line x1="543.50" y1="96.81" x2="548.00" y2="96.81" stroke="#555" stroke-width="0.8" />
<line x1="545.75" y1="96.21" x2="545.75" y2="97.41" stroke="#555" stroke-width="0.6" />
<rect x="552.20" y="118.00" width="7.10" height="42.60" rx="0" fill="url(#barB)" stroke="#8a8a8a" stroke-width="0.7" />
<line x1="553.50" y1="117.40" x2="558.00" y2="117.40" stroke="#555" stroke-width="0.8" />
<line x1="555.75" y1="116.80" x2="555.75" y2="118.00" stroke="#555" stroke-width="0.6" />
<rect x="559.30" y="92.44" width="7.10" height="68.16" rx="0" fill="url(#barP)" stroke="#8a8a8a" stroke-width="0.7" />
<line x1="560.60" y1="91.84" x2="565.10" y2="91.84" stroke="#555" stroke-width="0.8" />
<line x1="562.85" y1="91.24" x2="562.85" y2="92.44" stroke="#555" stroke-width="0.6" />
<rect x="569.30" y="108.41" width="7.10" height="52.19" rx="0" fill="url(#barB)" stroke="#8a8a8a" stroke-width="0.7" />
<line x1="570.60" y1="107.81" x2="575.10" y2="107.81" stroke="#555" stroke-width="0.8" />
<line x1="572.85" y1="107.21" x2="572.85" y2="108.41" stroke="#555" stroke-width="0.6" />
<rect x="576.40" y="81.79" width="7.10" height="78.81" rx="0" fill="url(#barP)" stroke="#8a8a8a" stroke-width="0.7" />
<line x1="577.70" y1="81.19" x2="582.20" y2="81.19" stroke="#555" stroke-width="0.8" />
<line x1="579.95" y1="80.59" x2="579.95" y2="81.79" stroke="#555" stroke-width="0.6" />
<rect x="586.40" y="103.44" width="7.10" height="57.16" rx="0" fill="url(#barB)" stroke="#8a8a8a" stroke-width="0.7" />
<line x1="587.70" y1="102.84" x2="592.20" y2="102.84" stroke="#555" stroke-width="0.8" />
<line x1="589.95" y1="102.24" x2="589.95" y2="103.44" stroke="#555" stroke-width="0.6" />
<rect x="593.50" y="74.69" width="7.10" height="85.91" rx="0" fill="url(#barP)" stroke="#8a8a8a" stroke-width="0.7" />
<line x1="594.80" y1="74.09" x2="599.30" y2="74.09" stroke="#555" stroke-width="0.8" />
<line x1="597.05" y1="73.49" x2="597.05" y2="74.69" stroke="#555" stroke-width="0.6" />
<rect x="603.50" y="98.83" width="7.10" height="61.77" rx="0" fill="url(#barB)" stroke="#8a8a8a" stroke-width="0.7" />
<line x1="604.80" y1="98.23" x2="609.30" y2="98.23" stroke="#555" stroke-width="0.8" />
<line x1="607.05" y1="97.63" x2="607.05" y2="98.83" stroke="#555" stroke-width="0.6" />
<rect x="610.60" y="69.36" width="7.10" height="91.23" rx="0" fill="url(#barP)" stroke="#8a8a8a" stroke-width="0.7" />
<line x1="611.90" y1="68.77" x2="616.40" y2="68.77" stroke="#555" stroke-width="0.8" />
<line x1="614.15" y1="68.16" x2="614.15" y2="69.36" stroke="#555" stroke-width="0.6" />
<rect x="620.60" y="89.24" width="7.10" height="71.36" rx="0" fill="url(#barB)" stroke="#8a8a8a" stroke-width="0.7" />
<line x1="621.90" y1="88.64" x2="626.40" y2="88.64" stroke="#555" stroke-width="0.8" />
<line x1="624.15" y1="88.04" x2="624.15" y2="89.24" stroke="#555" stroke-width="0.6" />
<rect x="627.70" y="58.36" width="7.10" height="102.24" rx="0" fill="url(#barP)" stroke="#8a8a8a" stroke-width="0.7" />
<line x1="629.00" y1="57.76" x2="633.50" y2="57.76" stroke="#555" stroke-width="0.8" />
<line x1="631.25" y1="57.16" x2="631.25" y2="58.36" stroke="#555" stroke-width="0.6" />
<rect x="637.70" y="83.21" width="7.10" height="77.39" rx="0" fill="url(#barB)" stroke="#8a8a8a" stroke-width="0.7" />
<line x1="639.00" y1="82.61" x2="643.50" y2="82.61" stroke="#555" stroke-width="0.8" />
<line x1="641.25" y1="82.01" x2="641.25" y2="83.21" stroke="#555" stroke-width="0.6" />
<rect x="644.80" y="46.29" width="7.10" height="114.31" rx="0" fill="url(#barP)" stroke="#8a8a8a" stroke-width="0.7" />
<line x1="646.10" y1="45.69" x2="650.60" y2="45.69" stroke="#555" stroke-width="0.8" />
<line x1="648.35" y1="45.09" x2="648.35" y2="46.29" stroke="#555" stroke-width="0.6" />
<rect x="654.80" y="72.92" width="7.10" height="87.68" rx="0" fill="url(#barB)" stroke="#8a8a8a" stroke-width="0.7" />
<line x1="656.10" y1="72.32" x2="660.60" y2="72.32" stroke="#555" stroke-width="0.8" />
<line x1="658.35" y1="71.72" x2="658.35" y2="72.92" stroke="#555" stroke-width="0.6" />
<rect x="661.90" y="36.71" width="7.10" height="123.89" rx="0" fill="url(#barP)" stroke="#8a8a8a" stroke-width="0.7" />
<line x1="663.20" y1="36.11" x2="667.70" y2="36.11" stroke="#555" stroke-width="0.8" />
<line x1="665.45" y1="35.51" x2="665.45" y2="36.71" stroke="#555" stroke-width="0.6" />
<rect x="528.40" y="18.20" width="145.20" height="142.40" rx="0" fill="none" stroke="#555555" stroke-width="0.9" />
<line x1="528.40" y1="160.60" x2="530.60" y2="160.60" stroke="#555555" stroke-width="0.8" />
<text x="525.30" y="164.10" font-size="9.8" text-anchor="end" fill="#161616" font-weight="normal" font-style="normal" >0</text>
<line x1="528.40" y1="125.10" x2="530.60" y2="125.10" stroke="#555555" stroke-width="0.8" />
<text x="525.30" y="128.60" font-size="9.8" text-anchor="end" fill="#161616" font-weight="normal" font-style="normal" >10</text>
<line x1="528.40" y1="89.60" x2="530.60" y2="89.60" stroke="#555555" stroke-width="0.8" />
<text x="525.30" y="93.10" font-size="9.8" text-anchor="end" fill="#161616" font-weight="normal" font-style="normal" >20</text>
<line x1="528.40" y1="54.10" x2="530.60" y2="54.10" stroke="#555555" stroke-width="0.8" />
<text x="525.30" y="57.60" font-size="9.8" text-anchor="end" fill="#161616" font-weight="normal" font-style="normal" >30</text>
<line x1="528.40" y1="18.60" x2="530.60" y2="18.60" stroke="#555555" stroke-width="0.8" />
<text x="525.30" y="22.10" font-size="9.8" text-anchor="end" fill="#161616" font-weight="normal" font-style="normal" >40</text>
<line x1="528.40" y1="142.85" x2="529.80" y2="142.85" stroke="#555555" stroke-width="0.7" />
<line x1="528.40" y1="107.35" x2="529.80" y2="107.35" stroke="#555555" stroke-width="0.7" />
<line x1="528.40" y1="71.85" x2="529.80" y2="71.85" stroke="#555555" stroke-width="0.7" />
<line x1="528.40" y1="36.35" x2="529.80" y2="36.35" stroke="#555555" stroke-width="0.7" />
<line x1="542.20" y1="160.60" x2="542.20" y2="160.60" stroke="#555555" stroke-width="0.7" />
<text x="541.90" y="171.80" font-size="9.8" text-anchor="middle" fill="#161616" font-weight="normal" font-style="normal" >21</text>
<line x1="559.30" y1="160.60" x2="559.30" y2="160.60" stroke="#555555" stroke-width="0.7" />
<text x="559.00" y="171.80" font-size="9.8" text-anchor="middle" fill="#161616" font-weight="normal" font-style="normal" >24</text>
<line x1="576.40" y1="160.60" x2="576.40" y2="160.60" stroke="#555555" stroke-width="0.7" />
<text x="576.10" y="171.80" font-size="9.8" text-anchor="middle" fill="#161616" font-weight="normal" font-style="normal" >27</text>
<line x1="593.50" y1="160.60" x2="593.50" y2="160.60" stroke="#555555" stroke-width="0.7" />
<text x="593.20" y="171.80" font-size="9.8" text-anchor="middle" fill="#161616" font-weight="normal" font-style="normal" >30</text>
<line x1="610.60" y1="160.60" x2="610.60" y2="160.60" stroke="#555555" stroke-width="0.7" />
<text x="610.30" y="171.80" font-size="9.8" text-anchor="middle" fill="#161616" font-weight="normal" font-style="normal" >33</text>
<line x1="627.70" y1="160.60" x2="627.70" y2="160.60" stroke="#555555" stroke-width="0.7" />
<text x="627.40" y="171.80" font-size="9.8" text-anchor="middle" fill="#161616" font-weight="normal" font-style="normal" >36</text>
<line x1="644.80" y1="160.60" x2="644.80" y2="160.60" stroke="#555555" stroke-width="0.7" />
<text x="644.50" y="171.80" font-size="9.8" text-anchor="middle" fill="#161616" font-weight="normal" font-style="normal" >39</text>
<line x1="661.90" y1="160.60" x2="661.90" y2="160.60" stroke="#555555" stroke-width="0.7" />
<text x="661.60" y="171.80" font-size="9.8" text-anchor="middle" fill="#161616" font-weight="normal" font-style="normal" >42</text>
<text x="601.20" y="184.50" font-size="10" text-anchor="middle" fill="#161616" font-weight="normal" font-style="normal" >Temperature (°C)</text>
<text transform="translate(508.0,92.2) rotate(-90)" font-size="9.6" text-anchor="middle" fill="#161616"><tspan font-style="italic">f</tspan><tspan font-size="6.6" dy="2">fR</tspan><tspan dy="-2">(kHz)</tspan></text>
<rect x="534.30" y="24.30" width="16.10" height="7.30" rx="0" fill="url(#barB)" stroke="#999" stroke-width="0.7" />
<rect x="534.30" y="36.90" width="16.10" height="7.50" rx="0" fill="url(#barP)" stroke="#999" stroke-width="0.7" />
<text x="553.3" y="31.1" font-size="7.8" fill="#161616"><tspan font-style="italic">R</tspan><tspan font-size="5.6" dy="1.6">L</tspan><tspan dy="-1.6">= 9.5 kΩ</tspan></text>
<text x="553.3" y="43.0" font-size="7.8" fill="#161616"><tspan font-style="italic">R</tspan><tspan font-size="5.6" dy="1.6">L</tspan><tspan dy="-1.6">= 6.5 kΩ</tspan></text>
<rect x="277.00" y="250.51" width="24.40" height="19.49" rx="0" fill="url(#blueStep)" stroke="none" stroke-width="1" />
<rect x="301.40" y="246.35" width="26.00" height="23.65" rx="0" fill="url(#blueStep)" stroke="none" stroke-width="1" />
<rect x="327.40" y="242.20" width="24.10" height="27.80" rx="0" fill="url(#blueStep)" stroke="none" stroke-width="1" />
<rect x="351.50" y="236.66" width="24.10" height="33.34" rx="0" fill="url(#blueStep)" stroke="none" stroke-width="1" />
<rect x="375.60" y="231.12" width="24.70" height="38.88" rx="0" fill="url(#blueStep)" stroke="none" stroke-width="1" />
<rect x="400.30" y="225.58" width="24.10" height="44.42" rx="0" fill="url(#blueStep)" stroke="none" stroke-width="1" />
<rect x="424.40" y="220.04" width="30.80" height="49.96" rx="0" fill="url(#blueStep)" stroke="none" stroke-width="1" />
<polyline points="263.20,269.70 277.00,269.70 277.00,250.51 301.40,250.51 301.40,246.35 327.40,246.35 327.40,242.20 351.50,242.20 351.50,236.66 375.60,236.66 375.60,231.12 400.30,231.12 400.30,225.58 424.40,225.58 424.40,220.04 455.20,220.04 455.20,269.70 472.80,269.70" stroke="#52c2e0" stroke-width="0.8" fill="none" />
<polyline points="263.20,270.00 263.20,214.40 472.80,214.40 472.80,270.00" stroke="#555555" stroke-width="0.9" fill="none" />
<text x="270.90" y="225.70" font-size="6.8" text-anchor="start" fill="#4cbde0" font-weight="normal" font-style="normal" textLength="60" lengthAdjust="spacingAndGlyphs">Applied pressure step</text>
<line x1="263.20" y1="269.90" x2="265.40" y2="269.90" stroke="#555555" stroke-width="0.8" />
<text x="260.60" y="273.30" font-size="9.6" text-anchor="end" fill="#161616" font-weight="normal" font-style="normal" >0</text>
<line x1="263.20" y1="242.20" x2="265.40" y2="242.20" stroke="#555555" stroke-width="0.8" />
<text x="260.60" y="245.60" font-size="9.6" text-anchor="end" fill="#161616" font-weight="normal" font-style="normal" >10</text>
<line x1="263.20" y1="214.50" x2="265.40" y2="214.50" stroke="#555555" stroke-width="0.8" />
<text x="260.60" y="217.90" font-size="9.6" text-anchor="end" fill="#161616" font-weight="normal" font-style="normal" >20</text>
<line x1="263.20" y1="256.05" x2="264.60" y2="256.05" stroke="#555555" stroke-width="0.7" />
<line x1="263.20" y1="228.35" x2="264.60" y2="228.35" stroke="#555555" stroke-width="0.7" />
<text transform="translate(247.6,243.0) rotate(-90)" font-size="8.8" text-anchor="middle" fill="#161616">Pressure (kPa)</text>
<polyline points="263.70,352.90 263.70,352.32 264.15,352.57 264.60,352.52 265.05,353.11 265.50,352.29 265.95,353.39 266.40,352.72 266.85,352.88 267.30,352.71 267.75,353.18 268.20,353.17 268.65,352.82 269.10,352.73 269.55,353.04 270.00,353.21 270.45,352.62 270.90,353.05 271.35,353.35 271.80,352.71 272.25,352.40 272.70,352.41 273.15,353.03 273.60,352.98 274.05,353.35 274.50,353.21 274.95,352.41 275.40,352.35 275.85,352.44" stroke="#4a4a4a" stroke-width="0.6" fill="none" />
<polyline points="276.00,352.60 276.80,352.00 279.00,288.80" stroke="#9a9a9a" stroke-width="0.45" fill="none" />
<path d="M279.60,323.46L280.50,288.45M282.44,322.94L283.34,288.44M285.28,322.97L286.18,288.88M288.12,323.26L289.02,288.33M290.96,323.17L291.86,288.31M293.80,323.42L294.70,288.36M296.64,323.34L297.54,288.61M299.48,323.25L300.38,288.36M302.32,322.98L303.22,289.03M304.75,323.19L305.65,288.84M307.17,323.42L308.07,288.84M309.60,323.66L310.50,288.39M312.02,322.99L312.92,288.73M314.44,323.14L315.34,288.35M316.87,323.42L317.77,288.45M319.29,323.64L320.19,288.60M321.72,323.01L322.62,289.05M324.14,323.24L325.04,288.82M326.56,323.15L327.46,288.67M328.99,323.04L329.89,288.39M331.08,323.19L331.98,288.89M333.18,323.01L334.08,288.34M335.27,323.52L336.17,288.50M337.37,323.26L338.27,289.06M339.46,323.58L340.36,288.58M341.56,323.45L342.46,288.77M343.65,323.46L344.55,288.39M345.75,323.55L346.65,288.89M347.84,323.59L348.74,288.79M349.94,323.35L350.84,288.72M352.03,323.13L352.93,288.60M353.87,323.66L354.77,289.01M355.71,323.15L356.61,289.02M357.55,323.14L358.45,288.85M359.38,323.05L360.28,288.32M361.22,323.43L362.12,288.92M363.06,323.06L363.96,288.80M364.90,323.30L365.80,288.33M366.73,323.13L367.63,288.39M368.57,323.53L369.47,288.41M370.41,323.39L371.31,288.32M372.24,323.64L373.14,288.73M374.08,323.01L374.98,288.86M375.92,322.93L376.82,288.92M377.64,323.06L378.54,289.10M379.36,323.51L380.26,288.65M381.08,323.23L381.98,288.93M382.80,323.30L383.70,288.43M384.52,323.07L385.42,288.98M386.25,323.51L387.15,288.67M387.97,322.93L388.87,288.66M389.69,323.19L390.59,288.66M391.41,323.11L392.31,288.94M393.13,323.03L394.03,288.73M394.85,323.03L395.75,288.62M396.57,323.25L397.47,288.79M398.29,323.15L399.19,288.62M400.02,323.22L400.92,288.34M401.74,323.61L402.64,289.03M403.33,323.03L404.23,288.68M404.93,323.38L405.83,289.03M406.53,323.53L407.43,288.52M408.12,323.35L409.02,288.69M409.72,323.18L410.62,288.80M411.32,322.97L412.22,288.65M412.91,322.97L413.81,288.32M414.51,323.05L415.41,288.69M416.11,323.68L417.01,288.46M417.70,323.65L418.60,289.03M419.30,323.41L420.20,288.90M420.90,323.23L421.80,288.45M422.49,323.44L423.39,288.57M424.09,323.59L424.99,288.97M425.69,323.05L426.59,288.59M427.18,323.52L428.08,288.48M428.68,323.31L429.58,288.96M430.18,323.66L431.08,288.86M431.68,322.92L432.58,288.87M433.18,322.98L434.08,288.84M434.68,323.39L435.58,288.35M436.17,323.49L437.07,289.02M437.67,323.06L438.57,288.30M439.17,323.15L440.07,288.57M440.67,323.45L441.57,288.47M442.17,323.69L443.07,288.41M443.67,323.08L444.57,289.07M445.16,323.63L446.06,288.70M446.66,323.27L447.56,288.93M448.16,322.99L449.06,288.96M449.66,323.61L450.56,288.46M451.16,323.56L452.06,288.62M452.66,323.51L453.56,288.81M454.15,323.43L455.05,288.62" stroke="#555555" stroke-width="0.55" fill="none"/>
<polyline points="455.60,321.50 455.90,322.50 456.32,327.95 456.74,332.25 457.16,335.90 457.58,338.66 458.00,341.16 458.42,343.10 458.84,344.79 459.26,345.92 459.68,347.08 460.10,348.00 460.52,348.30 460.94,349.38 461.36,350.04 461.78,350.13 462.20,350.68 462.62,350.90 463.04,350.73 463.46,351.04 463.88,351.84 464.30,351.29 464.72,351.49 465.14,351.22 465.56,351.42 465.98,351.42 466.40,352.23 466.82,352.06 467.24,352.24 467.66,352.38 468.08,352.02 468.50,352.36 468.92,351.98 469.34,351.87 469.76,352.41 470.18,352.37 470.60,352.42 471.02,351.96 471.44,352.26 471.86,351.89 472.28,352.49" stroke="#000000" stroke-width="1.1" fill="none" />
<path d="M282.50,353.60V340.71M317.50,353.60V340.98M319.50,353.60V340.87M324.50,353.60V340.78M326.50,353.60V340.71M337.50,353.60V341.09M359.50,353.60V340.98M363.50,353.60V341.07M367.50,353.60V340.99M368.50,353.60V340.97M377.50,353.60V340.64M379.50,353.60V340.89M384.50,353.60V340.89M386.50,353.60V340.84M389.50,353.60V340.84M395.50,353.60V340.62M396.50,353.60V340.71M400.50,353.60V340.84M411.50,353.60V340.97M413.50,353.60V340.70M422.50,353.60V341.16M430.50,353.60V340.63M437.50,353.60V341.07M446.50,353.60V340.97M448.50,353.60V340.61M451.50,353.60V341.01" stroke="#8080f4" stroke-width="0.6" fill="none"/>
<path d="M279.50,353.60V341.12M285.50,353.60V340.66M288.50,353.60V341.04M291.50,353.60V340.86M294.50,353.60V341.05M296.50,353.60V340.67M302.50,353.60V341.16M307.50,353.60V341.08M312.50,353.60V340.90M331.50,353.60V340.76M333.50,353.60V340.89M335.50,353.60V340.81M339.50,353.60V340.67M350.50,353.60V340.72M352.50,353.60V341.11M357.50,353.60V341.12M365.50,353.60V340.99M370.50,353.60V340.90M372.50,353.60V340.79M376.50,353.60V340.65M388.50,353.60V340.75M391.50,353.60V340.82M402.50,353.60V340.74M403.50,353.60V340.97M405.50,353.60V341.08M406.50,353.60V340.88M408.50,353.60V340.62M414.50,353.60V340.91M416.50,353.60V340.89M418.50,353.60V340.62M419.50,353.60V340.84M425.50,353.60V341.08M427.50,353.60V340.89M434.50,353.60V340.63M436.50,353.60V340.80M442.50,353.60V340.67M443.50,353.60V340.94M449.50,353.60V340.65M452.50,353.60V341.12M454.50,353.60V341.07" stroke="#a0a0f8" stroke-width="0.6" fill="none"/>
<path d="M299.50,353.60V340.86M305.50,353.60V340.87M309.50,353.60V340.80M314.50,353.60V341.04M322.50,353.60V340.80M329.50,353.60V340.93M341.50,353.60V340.94M343.50,353.60V340.94M346.50,353.60V341.05M348.50,353.60V341.08M354.50,353.60V340.83M356.50,353.60V340.90M361.50,353.60V340.90M374.50,353.60V341.11M381.50,353.60V341.11M383.50,353.60V341.02M393.50,353.60V340.61M398.50,353.60V340.62M410.50,353.60V340.66M421.50,353.60V340.90M424.50,353.60V340.83M428.50,353.60V341.05M431.50,353.60V340.88M433.50,353.60V340.74M439.50,353.60V340.87M440.50,353.60V341.19M445.50,353.60V340.79" stroke="#bcbcfa" stroke-width="0.6" fill="none"/>
<polyline points="263.50,353.90 279.70,354.30 280.05,353.00 281.04,354.00 282.54,354.30 282.89,353.00 283.88,354.00 285.38,354.30 285.73,353.00 286.73,354.00 288.22,354.30 288.57,353.00 289.57,354.00 291.06,354.30 291.41,353.00 292.41,354.00 293.90,354.30 294.25,353.00 295.25,354.00 296.74,354.30 297.09,353.00 298.09,354.00 299.58,354.30 299.93,353.00 300.93,354.00 302.42,354.30 302.77,353.00 303.62,354.00 304.85,354.30 305.20,353.00 306.05,354.00 307.27,354.30 307.62,353.00 308.47,354.00 309.70,354.30 310.05,353.00 310.89,354.00 312.12,354.30 312.47,353.00 313.32,354.00 314.54,354.30 314.89,353.00 315.74,354.00 316.97,354.30 317.32,353.00 318.17,354.00 319.39,354.30 319.74,353.00 320.59,354.00 321.82,354.30 322.17,353.00 323.02,354.00 324.24,354.30 324.59,353.00 325.44,354.00 326.66,354.30 327.01,353.00 327.86,354.00 329.09,354.30 329.44,353.00 330.17,354.00 331.18,354.30 331.53,353.00 332.27,354.00 333.28,354.30 333.63,353.00 334.36,354.00 335.37,354.30 335.72,353.00 336.46,354.00 337.47,354.30 337.82,353.00 338.55,354.00 339.56,354.30 339.91,353.00 340.65,354.00 341.66,354.30 342.01,353.00 342.74,354.00 343.75,354.30 344.10,353.00 344.84,354.00 345.85,354.30 346.20,353.00 346.93,354.00 347.94,354.30 348.29,353.00 349.03,354.00 350.04,354.30 350.39,353.00 351.12,354.00 352.13,354.30 352.48,353.00 353.13,354.00 353.97,354.30 354.32,353.00 354.96,354.00 355.81,354.30 356.16,353.00 356.80,354.00 357.65,354.30 358.00,353.00 358.64,354.00 359.48,354.30 359.83,353.00 360.48,354.00 361.32,354.30 361.67,353.00 362.31,354.00 363.16,354.30 363.51,353.00 364.15,354.00 365.00,354.30 365.35,353.00 365.99,354.00 366.83,354.30 367.18,353.00 367.83,354.00 368.67,354.30 369.02,353.00 369.66,354.00 370.51,354.30 370.86,353.00 371.50,354.00 372.34,354.30 372.69,353.00 373.34,354.00 374.18,354.30 374.53,353.00 375.17,354.00 376.02,354.30 376.37,353.00 376.97,354.00 377.74,354.30 378.09,353.00 378.69,354.00 379.46,354.30 379.81,353.00 380.41,354.00 381.18,354.30 381.53,353.00 382.14,354.00 382.90,354.30 383.25,353.00 383.86,354.00 384.62,354.30 384.97,353.00 385.58,354.00 386.35,354.30 386.70,353.00 387.30,354.00 388.07,354.30 388.42,353.00 389.02,354.00 389.79,354.30 390.14,353.00 390.74,354.00 391.51,354.30 391.86,353.00 392.46,354.00 393.23,354.30 393.58,353.00 394.18,354.00 394.95,354.30 395.30,353.00 395.90,354.00 396.67,354.30 397.02,353.00 397.63,354.00 398.39,354.30 398.74,353.00 399.35,354.00 400.12,354.30 400.47,353.00 401.07,354.00 401.84,354.30 402.19,353.00 402.75,354.00 403.43,354.30 403.78,353.00 404.34,354.00 405.03,354.30 405.38,353.00 405.94,354.00 406.63,354.30 406.98,353.00 407.54,354.00 408.22,354.30 408.57,353.00 409.13,354.00 409.82,354.30 410.17,353.00 410.73,354.00 411.42,354.30 411.77,353.00 412.32,354.00 413.01,354.30 413.36,353.00 413.92,354.00 414.61,354.30 414.96,353.00 415.52,354.00 416.21,354.30 416.56,353.00 417.11,354.00 417.80,354.30 418.15,353.00 418.71,354.00 419.40,354.30 419.75,353.00 420.31,354.00 421.00,354.30 421.35,353.00 421.90,354.00 422.59,354.30 422.94,353.00 423.50,354.00 424.19,354.30 424.54,353.00 425.10,354.00 425.79,354.30 426.14,353.00 426.66,354.00 427.28,354.30 427.63,353.00 428.16,354.00 428.78,354.30 429.13,353.00 429.66,354.00 430.28,354.30 430.63,353.00 431.15,354.00 431.78,354.30 432.13,353.00 432.65,354.00 433.28,354.30 433.63,353.00 434.15,354.00 434.78,354.30 435.13,353.00 435.65,354.00 436.27,354.30 436.62,353.00 437.15,354.00 437.77,354.30 438.12,353.00 438.65,354.00 439.27,354.30 439.62,353.00 440.15,354.00 440.77,354.30 441.12,353.00 441.64,354.00 442.27,354.30 442.62,353.00 443.14,354.00 443.77,354.30 444.12,353.00 444.64,354.00 445.26,354.30 445.61,353.00 446.14,354.00 446.76,354.30 447.11,353.00 447.64,354.00 448.26,354.30 448.61,353.00 449.14,354.00 449.76,354.30 450.11,353.00 450.63,354.00 451.26,354.30 451.61,353.00 452.13,354.00 452.76,354.30 453.11,353.00 453.63,354.00 454.25,354.30 454.60,353.00 455.13,354.00 472.80,353.90" stroke="#5555e6" stroke-width="0.7" fill="none" />
<line x1="280.00" y1="287.40" x2="453.80" y2="287.40" stroke="#f44a8e" stroke-width="0.85" stroke-dasharray="1.6 1.2"/>
<line x1="280.00" y1="324.50" x2="453.80" y2="324.50" stroke="#f44a8e" stroke-width="0.85" stroke-dasharray="1.6 1.2"/>
<line x1="281.00" y1="340.40" x2="453.80" y2="340.40" stroke="#f44a8e" stroke-width="0.85" stroke-dasharray="1.6 1.2"/>
<line x1="263.20" y1="270.00" x2="263.20" y2="360.30" stroke="#555555" stroke-width="0.9" />
<line x1="262.80" y1="360.30" x2="472.80" y2="360.30" stroke="#555555" stroke-width="0.9" />
<line x1="472.80" y1="270.00" x2="472.80" y2="360.30" stroke="#7b7bf6" stroke-width="0.9" />
<line x1="263.20" y1="353.40" x2="265.40" y2="353.40" stroke="#555555" stroke-width="0.8" />
<text x="260.80" y="356.80" font-size="9.6" text-anchor="end" fill="#161616" font-weight="normal" font-style="normal" >0</text>
<line x1="263.20" y1="321.05" x2="265.40" y2="321.05" stroke="#555555" stroke-width="0.8" />
<text x="260.80" y="324.45" font-size="9.6" text-anchor="end" fill="#161616" font-weight="normal" font-style="normal" >1</text>
<line x1="263.20" y1="288.70" x2="265.40" y2="288.70" stroke="#555555" stroke-width="0.8" />
<text x="260.80" y="292.10" font-size="9.6" text-anchor="end" fill="#161616" font-weight="normal" font-style="normal" >2</text>
<line x1="263.20" y1="337.22" x2="264.60" y2="337.22" stroke="#555555" stroke-width="0.7" />
<line x1="263.20" y1="304.88" x2="264.60" y2="304.88" stroke="#555555" stroke-width="0.7" />
<line x1="470.60" y1="353.70" x2="472.80" y2="353.70" stroke="#7b7bf6" stroke-width="0.8" />
<text x="476.40" y="357.10" font-size="9.6" text-anchor="start" fill="#7c7cf4" font-weight="normal" font-style="normal" >0.0</text>
<line x1="470.60" y1="316.85" x2="472.80" y2="316.85" stroke="#7b7bf6" stroke-width="0.8" />
<text x="476.40" y="320.25" font-size="9.6" text-anchor="start" fill="#7c7cf4" font-weight="normal" font-style="normal" >0.5</text>
<line x1="470.60" y1="280.00" x2="472.80" y2="280.00" stroke="#7b7bf6" stroke-width="0.8" />
<text x="476.40" y="283.40" font-size="9.6" text-anchor="start" fill="#7c7cf4" font-weight="normal" font-style="normal" >1.0</text>
<line x1="471.40" y1="335.27" x2="472.80" y2="335.27" stroke="#7b7bf6" stroke-width="0.7" />
<line x1="471.40" y1="298.42" x2="472.80" y2="298.42" stroke="#7b7bf6" stroke-width="0.7" />
<line x1="263.70" y1="360.30" x2="263.70" y2="358.10" stroke="#555555" stroke-width="0.8" />
<text x="263.90" y="370.60" font-size="9.6" text-anchor="middle" fill="#161616" font-weight="normal" font-style="normal" >0</text>
<line x1="310.00" y1="360.30" x2="310.00" y2="358.10" stroke="#555555" stroke-width="0.8" />
<text x="310.20" y="370.60" font-size="9.6" text-anchor="middle" fill="#161616" font-weight="normal" font-style="normal" >1000</text>
<line x1="356.30" y1="360.30" x2="356.30" y2="358.10" stroke="#555555" stroke-width="0.8" />
<text x="356.50" y="370.60" font-size="9.6" text-anchor="middle" fill="#161616" font-weight="normal" font-style="normal" >2000</text>
<line x1="402.60" y1="360.30" x2="402.60" y2="358.10" stroke="#555555" stroke-width="0.8" />
<text x="402.80" y="370.60" font-size="9.6" text-anchor="middle" fill="#161616" font-weight="normal" font-style="normal" >3000</text>
<line x1="448.90" y1="360.30" x2="448.90" y2="358.10" stroke="#555555" stroke-width="0.8" />
<text x="449.10" y="370.60" font-size="9.6" text-anchor="middle" fill="#161616" font-weight="normal" font-style="normal" >4000</text>
<line x1="286.85" y1="360.30" x2="286.85" y2="358.90" stroke="#555555" stroke-width="0.7" />
<line x1="333.15" y1="360.30" x2="333.15" y2="358.90" stroke="#555555" stroke-width="0.7" />
<line x1="379.45" y1="360.30" x2="379.45" y2="358.90" stroke="#555555" stroke-width="0.7" />
<line x1="425.75" y1="360.30" x2="425.75" y2="358.90" stroke="#555555" stroke-width="0.7" />
<line x1="472.05" y1="360.30" x2="472.05" y2="358.90" stroke="#555555" stroke-width="0.7" />
<text x="367.80" y="380.60" font-size="9.7" text-anchor="middle" fill="#161616" font-weight="normal" font-style="normal" >Time (μs)</text>
<text transform="translate(249.2,316) rotate(-90)" font-size="9.2" text-anchor="middle" fill="#161616"><tspan font-style="italic">V</tspan><tspan font-size="6.5" dy="2">m</tspan><tspan dy="-2"> (V)</tspan></text>
<text transform="translate(500.0,316) rotate(-90)" font-size="9.2" text-anchor="middle" fill="#7c7cf4"><tspan font-style="italic">V</tspan><tspan font-size="6.5" dy="2">out</tspan><tspan dy="-2"> (V)</tspan></text>
<rect x="548.90" y="322.64" width="10.00" height="36.16" rx="0" fill="url(#barF)" stroke="#8a8a8a" stroke-width="0.7" />
<line x1="551.40" y1="321.84" x2="556.40" y2="321.84" stroke="#555" stroke-width="0.8" />
<line x1="553.90" y1="321.14" x2="553.90" y2="322.64" stroke="#555" stroke-width="0.6" />
<rect x="565.45" y="306.57" width="10.00" height="52.23" rx="0" fill="url(#barF)" stroke="#8a8a8a" stroke-width="0.7" />
<line x1="567.95" y1="305.77" x2="572.95" y2="305.77" stroke="#555" stroke-width="0.8" />
<line x1="570.45" y1="305.07" x2="570.45" y2="306.57" stroke="#555" stroke-width="0.6" />
<rect x="582.00" y="289.35" width="10.00" height="69.45" rx="0" fill="url(#barF)" stroke="#8a8a8a" stroke-width="0.7" />
<line x1="584.50" y1="288.55" x2="589.50" y2="288.55" stroke="#555" stroke-width="0.8" />
<line x1="587.00" y1="287.85" x2="587.00" y2="289.35" stroke="#555" stroke-width="0.6" />
<rect x="598.55" y="271.55" width="10.00" height="87.25" rx="0" fill="url(#barF)" stroke="#8a8a8a" stroke-width="0.7" />
<line x1="601.05" y1="270.75" x2="606.05" y2="270.75" stroke="#555" stroke-width="0.8" />
<line x1="603.55" y1="270.05" x2="603.55" y2="271.55" stroke="#555" stroke-width="0.6" />
<rect x="615.10" y="261.79" width="10.00" height="97.01" rx="0" fill="url(#barF)" stroke="#8a8a8a" stroke-width="0.7" />
<line x1="617.60" y1="260.99" x2="622.60" y2="260.99" stroke="#555" stroke-width="0.8" />
<line x1="620.10" y1="260.29" x2="620.10" y2="261.79" stroke="#555" stroke-width="0.6" />
<rect x="631.65" y="249.74" width="10.00" height="109.06" rx="0" fill="url(#barF)" stroke="#8a8a8a" stroke-width="0.7" />
<line x1="634.15" y1="248.94" x2="639.15" y2="248.94" stroke="#555" stroke-width="0.8" />
<line x1="636.65" y1="248.24" x2="636.65" y2="249.74" stroke="#555" stroke-width="0.6" />
<rect x="648.20" y="238.83" width="10.00" height="119.97" rx="0" fill="url(#barF)" stroke="#8a8a8a" stroke-width="0.7" />
<line x1="650.70" y1="238.03" x2="655.70" y2="238.03" stroke="#555" stroke-width="0.8" />
<line x1="653.20" y1="237.33" x2="653.20" y2="238.83" stroke="#555" stroke-width="0.6" />
<rect x="537.30" y="216.00" width="133.20" height="142.80" rx="0" fill="none" stroke="#555555" stroke-width="0.9" />
<line x1="537.30" y1="358.80" x2="539.50" y2="358.80" stroke="#555555" stroke-width="0.8" />
<text x="534.60" y="362.30" font-size="9.8" text-anchor="end" fill="#161616" font-weight="normal" font-style="normal" >10</text>
<line x1="537.30" y1="330.10" x2="539.50" y2="330.10" stroke="#555555" stroke-width="0.8" />
<text x="534.60" y="333.60" font-size="9.8" text-anchor="end" fill="#161616" font-weight="normal" font-style="normal" >15</text>
<line x1="537.30" y1="301.40" x2="539.50" y2="301.40" stroke="#555555" stroke-width="0.8" />
<text x="534.60" y="304.90" font-size="9.8" text-anchor="end" fill="#161616" font-weight="normal" font-style="normal" >20</text>
<line x1="537.30" y1="272.70" x2="539.50" y2="272.70" stroke="#555555" stroke-width="0.8" />
<text x="534.60" y="276.20" font-size="9.8" text-anchor="end" fill="#161616" font-weight="normal" font-style="normal" >25</text>
<line x1="537.30" y1="244.00" x2="539.50" y2="244.00" stroke="#555555" stroke-width="0.8" />
<text x="534.60" y="247.50" font-size="9.8" text-anchor="end" fill="#161616" font-weight="normal" font-style="normal" >30</text>
<line x1="537.30" y1="215.30" x2="539.50" y2="215.30" stroke="#555555" stroke-width="0.8" />
<text x="534.60" y="218.80" font-size="9.8" text-anchor="end" fill="#161616" font-weight="normal" font-style="normal" >35</text>
<line x1="537.30" y1="344.45" x2="538.70" y2="344.45" stroke="#555555" stroke-width="0.7" />
<line x1="537.30" y1="315.75" x2="538.70" y2="315.75" stroke="#555555" stroke-width="0.7" />
<line x1="537.30" y1="287.05" x2="538.70" y2="287.05" stroke="#555555" stroke-width="0.7" />
<line x1="537.30" y1="258.35" x2="538.70" y2="258.35" stroke="#555555" stroke-width="0.7" />
<line x1="537.30" y1="229.65" x2="538.70" y2="229.65" stroke="#555555" stroke-width="0.7" />
<text x="553.90" y="368.00" font-size="9.8" text-anchor="middle" fill="#161616" font-weight="normal" font-style="normal" >7</text>
<text x="570.45" y="368.00" font-size="9.8" text-anchor="middle" fill="#161616" font-weight="normal" font-style="normal" >8.5</text>
<text x="587.00" y="368.00" font-size="9.8" text-anchor="middle" fill="#161616" font-weight="normal" font-style="normal" >10</text>
<text x="603.55" y="368.00" font-size="9.8" text-anchor="middle" fill="#161616" font-weight="normal" font-style="normal" >12</text>
<text x="620.10" y="368.00" font-size="9.8" text-anchor="middle" fill="#161616" font-weight="normal" font-style="normal" >14</text>
<text x="636.65" y="368.00" font-size="9.8" text-anchor="middle" fill="#161616" font-weight="normal" font-style="normal" >16</text>
<text x="653.20" y="368.00" font-size="9.8" text-anchor="middle" fill="#161616" font-weight="normal" font-style="normal" >18</text>
<text x="603.80" y="379.40" font-size="9.7" text-anchor="middle" fill="#161616" font-weight="normal" font-style="normal" >Pressure (kPa)</text>
<text transform="translate(520.4,289.0) rotate(-90)" font-size="8.4" text-anchor="middle" fill="#161616"><tspan font-style="italic">f</tspan><tspan font-size="5.8" dy="1.8">fR</tspan><tspan dy="-1.8">(kHz)</tspan></text>
</svg>
</body></html>
